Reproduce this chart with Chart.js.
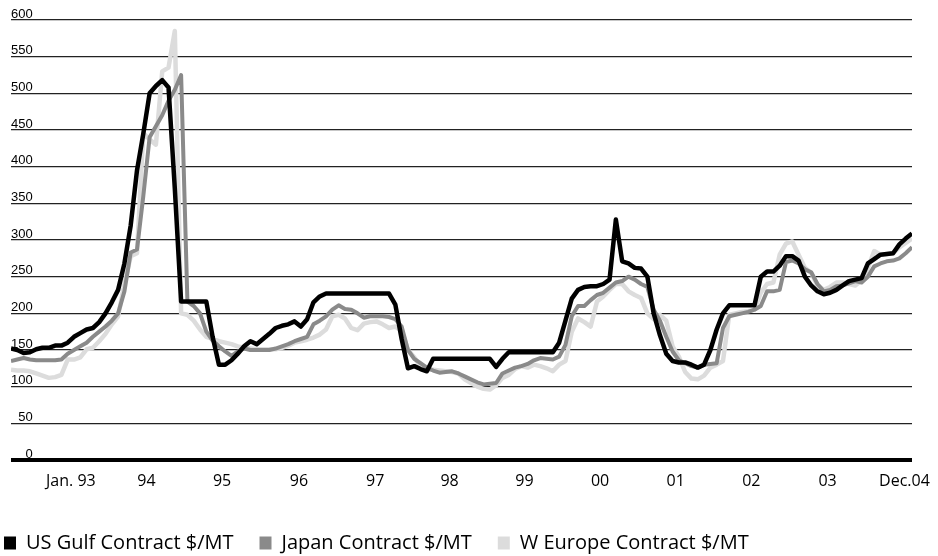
<!DOCTYPE html>
<html>
<head>
<meta charset="utf-8">
<title>Contract prices</title>
<script src="https://cdn.jsdelivr.net/npm/chart.js@4.4.1/dist/chart.umd.min.js"></script>
<style>
  html, body { margin: 0; padding: 0; background: #fff; }
  #wrap { width: 938px; height: 556px; }
</style>
</head>
<body>
<div id="wrap"><canvas id="graficoContratos" width="938" height="556"></canvas></div>
<script>
// monthly values, Jan 93 .. Dec 04 (144 months)
const usGulf = [
  152, 150, 146, 147, 151, 153, 153, 156, 156, 160, 168, 173,
  178, 180, 188, 200, 215, 232, 268, 320, 395, 445, 500, 510,
  518, 508, 370, 216, 216, 216, 216, 216, 168, 130, 130, 136,
  145, 155, 162, 158, 165, 172, 180, 183, 185, 189, 182, 192,
  215, 223, 227, 227, 227, 227, 227, 227, 227, 227, 227, 227,
  227, 212, 165, 125, 128, 124, 121, 138, 138, 138, 138, 138,
  138, 138, 138, 138, 138, 127, 138, 147, 147, 147, 147, 147,
  147, 147, 147, 160, 190, 220, 232, 236, 237, 237, 240, 246,
  328, 271, 268, 262, 261, 250, 200, 170, 145, 135, 133, 133,
  130, 126, 130, 150, 178, 200, 211, 211, 211, 211, 211, 250,
  257, 257, 265, 278, 278, 272, 250, 238, 230, 226, 228, 232,
  238, 244, 246, 248, 268, 274, 280, 281, 282, 294, 302, 309
];
const japan = [
  135, 137, 139, 137, 136, 136, 136, 136, 137, 145, 150, 155,
  160, 168, 175, 182, 190, 200, 230, 283, 287, 360, 440, 455,
  470, 490, 505, 525, 216, 210, 200, 175, 163, 155, 148, 142,
  148, 152, 150, 150, 150, 150, 152, 155, 158, 162, 165, 168,
  185, 190, 196, 205, 211, 206, 205, 200, 194, 196, 196, 196,
  195, 192, 182, 150, 138, 132, 126, 122, 119, 120, 121, 118,
  114, 110, 106, 103, 104, 105, 118, 122, 126, 128, 131, 136,
  139, 138, 137, 141, 157, 196, 210, 210, 218, 225, 228, 235,
  242, 244, 250, 246, 240, 236, 205, 190, 168, 148, 136, 132,
  128, 126, 130, 131, 132, 180, 196, 198, 200, 202, 205, 210,
  230, 230, 232, 270, 272, 268, 260, 256, 240, 230, 232, 237,
  238, 241, 244, 242, 250, 264, 268, 271, 272, 275, 282, 290
];
const wEurope = [
  123, 122, 122, 121, 118, 115, 112, 113, 116, 137, 137, 140,
  151, 153, 162, 172, 185, 196, 240, 278, 282, 446, 437, 430,
  530, 535, 585, 200, 198, 190, 178, 168, 165, 162, 160, 158,
  155, 153, 152, 151, 151, 151, 151, 153, 156, 160, 162, 164,
  167, 171, 178, 196, 198, 193, 180, 177, 186, 188, 189, 185,
  180, 182, 176, 150, 140, 128, 123, 123, 122, 121, 120, 118,
  110, 105, 100, 97, 96, 102, 112, 116, 124, 128, 126, 130,
  128, 125, 121, 130, 135, 175, 193, 188, 182, 216, 223, 232,
  240, 240, 230, 225, 221, 200, 192, 198, 190, 155, 141, 120,
  111, 110, 115, 126, 130, 135, 198, 200, 202, 203, 205, 228,
  240, 242, 280, 295, 298, 280, 262, 255, 238, 232, 236, 242,
  242, 240, 238, 245, 262, 285, 280, 281, 282, 290, 296, 302
];
const seriesNames = ["US Gulf Contract $/MT", "Japan Contract $/MT", "W Europe Contract $/MT"];
const seriesColors = ["#000000", "#8a8a8a", "#dcdcdc"];

// year labels and where they sit on the month axis
const yearLabels = ["Jan. 93", "94", "95", "96", "97", "98", "99", "00", "01", "02", "03", "Dec.04"];
const yearTickPos = [9.5, 21.5, 33.5, 45.7, 57.8, 69.6, 81.5, 93.5, 105.5, 117.5, 129.6, 141.8];
const yTicks = [0, 50, 100, 150, 200, 250, 300, 350, 400, 450, 500, 550, 600];

document.addEventListener("DOMContentLoaded", () => {
  const ctx = document.getElementById("graficoContratos").getContext("2d");
  const months = usGulf.map((_, i) => i);

  const mkSet = (i, values, width) => ({
    label: seriesNames[i],
    data: values,
    borderColor: seriesColors[i],
    backgroundColor: seriesColors[i],
    borderWidth: width,
    pointRadius: 0,
    tension: 0,
    borderJoinStyle: "round",
  });

  new Chart(ctx, {
    type: "line",
    data: {
      labels: months,
      datasets: [
        mkSet(0, usGulf, 4.5),
        mkSet(1, japan, 4),
        mkSet(2, wEurope, 4.5),
      ],
    },
    options: {
      responsive: false,
      animation: false,
      layout: { padding: { top: 20, left: -22, right: 26, bottom: -7 } },
      scales: {
        x: {
          type: "linear",
          min: 0,
          max: 143,
          afterBuildTicks: (scale) => {
            scale.ticks = yearTickPos.map((v) => ({ value: v }));
          },
          afterFit: (scale) => {
            scale.height = 47;
            scale.paddingLeft = 0;
            scale.paddingRight = 0;
          },
          ticks: {
            autoSkip: false,
            maxRotation: 0,
            padding: 12,
            color: "#000",
            font: { family: "Open Sans", size: 16 },
            callback: (value, index) => yearLabels[index],
          },
          grid: { display: false, drawTicks: false },
          border: { display: false },
        },
        y: {
          min: 0,
          max: 600,
          afterBuildTicks: (scale) => {
            scale.ticks = yTicks.map((v) => ({ value: v }));
          },
          afterFit: (scale) => { scale.width = 33; },
          ticks: {
            mirror: true,
            padding: 0,
            labelOffset: -6,
            color: "#000",
            font: { family: "Liberation Sans", size: 13 },
            // right-align the numbers with figure spaces
            callback: (value) => String(value).padStart(3, "\u2007"),
          },
          grid: {
            drawTicks: false,
            color: (c) => (c.tick && c.tick.value === 0 ? "#000" : "#222"),
            lineWidth: (c) => (c.tick && c.tick.value === 0 ? 4 : 1.2),
          },
          border: { display: false },
        },
      },
      plugins: {
        tooltip: { enabled: false },
        legend: {
          position: "bottom",
          align: "start",
          labels: {
            boxWidth: 12,
            boxHeight: 13,
            padding: 26,
            color: "#000",
            font: { family: "Open Sans", size: 20 },
            generateLabels: (chart) =>
              Chart.defaults.plugins.legend.labels
                .generateLabels(chart)
                .map((item) => ({ ...item, lineWidth: 0 })),
          },
        },
      },
    },
  });
});
</script>
</body>
</html>
